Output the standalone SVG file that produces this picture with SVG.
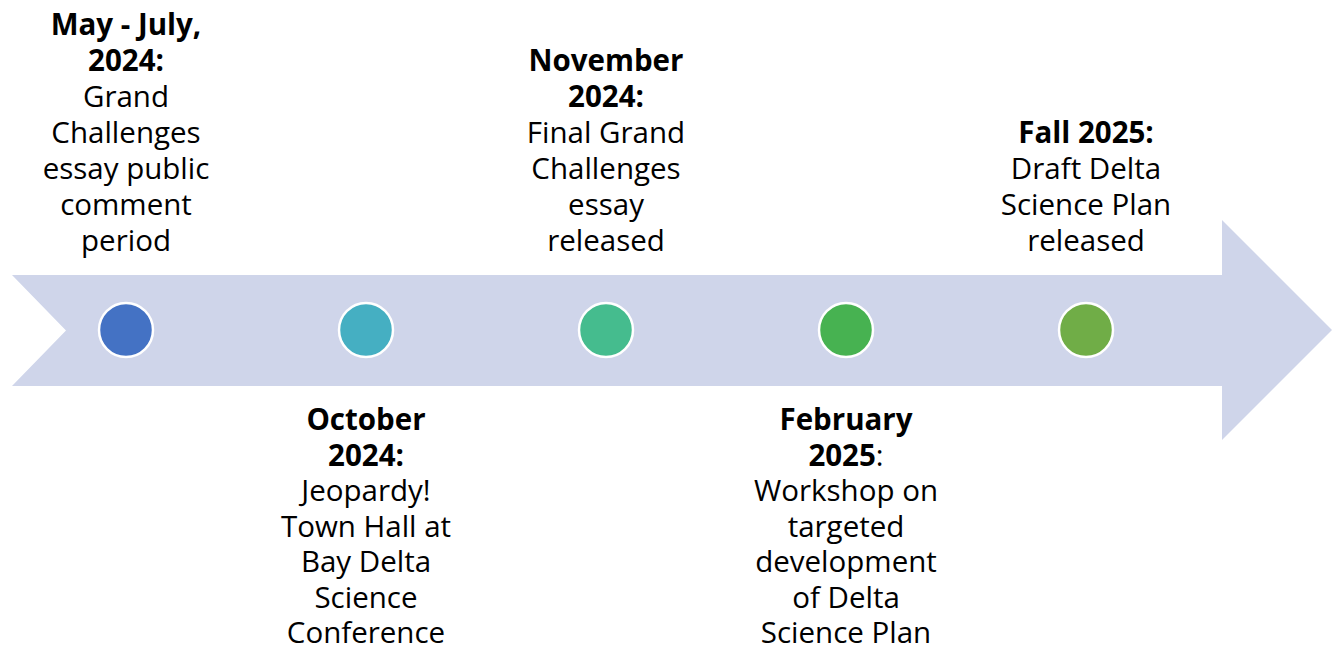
<svg xmlns="http://www.w3.org/2000/svg" width="1337" height="647" viewBox="0 0 1337 647">
<style>
text{font-family:"Open Sans","Noto Sans","Liberation Sans",sans-serif;font-size:29.5px;fill:#000;text-anchor:middle}
.b{font-weight:bold}
.dot{stroke:#fff;stroke-width:2.5}
</style>
<rect width="1337" height="647" fill="#fff"/>
<g id="arrow">
<polygon points="12,275 1222,275 1222,220 1332,330 1222,440 1222,386 12,386 66,330.5" fill="#CFD5EA"/>
</g>
<g id="connectors"></g>
<g id="n1">
<circle class="dot" cx="126" cy="330" r="27" fill="#4472C4"/>
<text x="126" y="35" class="b">May - July,</text>
<text x="126" y="71" class="b">2024:</text>
<text x="126" y="107">Grand</text>
<text x="126" y="143">Challenges</text>
<text x="126" y="179">essay public</text>
<text x="126" y="215">comment</text>
<text x="126" y="251">period</text>
</g>
<g id="n2">
<circle class="dot" cx="366" cy="330" r="27" fill="#45AFC2"/>
<text x="366" y="430" class="b">October</text>
<text x="366" y="465.5" class="b">2024:</text>
<text x="366" y="501">Jeopardy!</text>
<text x="366" y="536.5">Town Hall at</text>
<text x="366" y="572">Bay Delta</text>
<text x="366" y="607.5">Science</text>
<text x="366" y="643">Conference</text>
</g>
<g id="n3">
<circle class="dot" cx="606" cy="330" r="27" fill="#45BC8E"/>
<text x="606" y="71" class="b">November</text>
<text x="606" y="107" class="b">2024:</text>
<text x="606" y="143">Final Grand</text>
<text x="606" y="179">Challenges</text>
<text x="606" y="215">essay</text>
<text x="606" y="251">released</text>
</g>
<g id="n4">
<circle class="dot" cx="846" cy="330" r="27" fill="#47B251"/>
<text x="846" y="430" class="b">February</text>
<text x="846" y="465.5"><tspan class="b">2025</tspan>:</text>
<text x="846" y="501">Workshop on</text>
<text x="846" y="536.5">targeted</text>
<text x="846" y="572">development</text>
<text x="846" y="607.5">of Delta</text>
<text x="846" y="643">Science Plan</text>
</g>
<g id="n5">
<circle class="dot" cx="1086" cy="330" r="27" fill="#70AD47"/>
<text x="1086" y="143" class="b">Fall 2025:</text>
<text x="1086" y="179">Draft Delta</text>
<text x="1086" y="215">Science Plan</text>
<text x="1086" y="251">released</text>
</g>
</svg>
